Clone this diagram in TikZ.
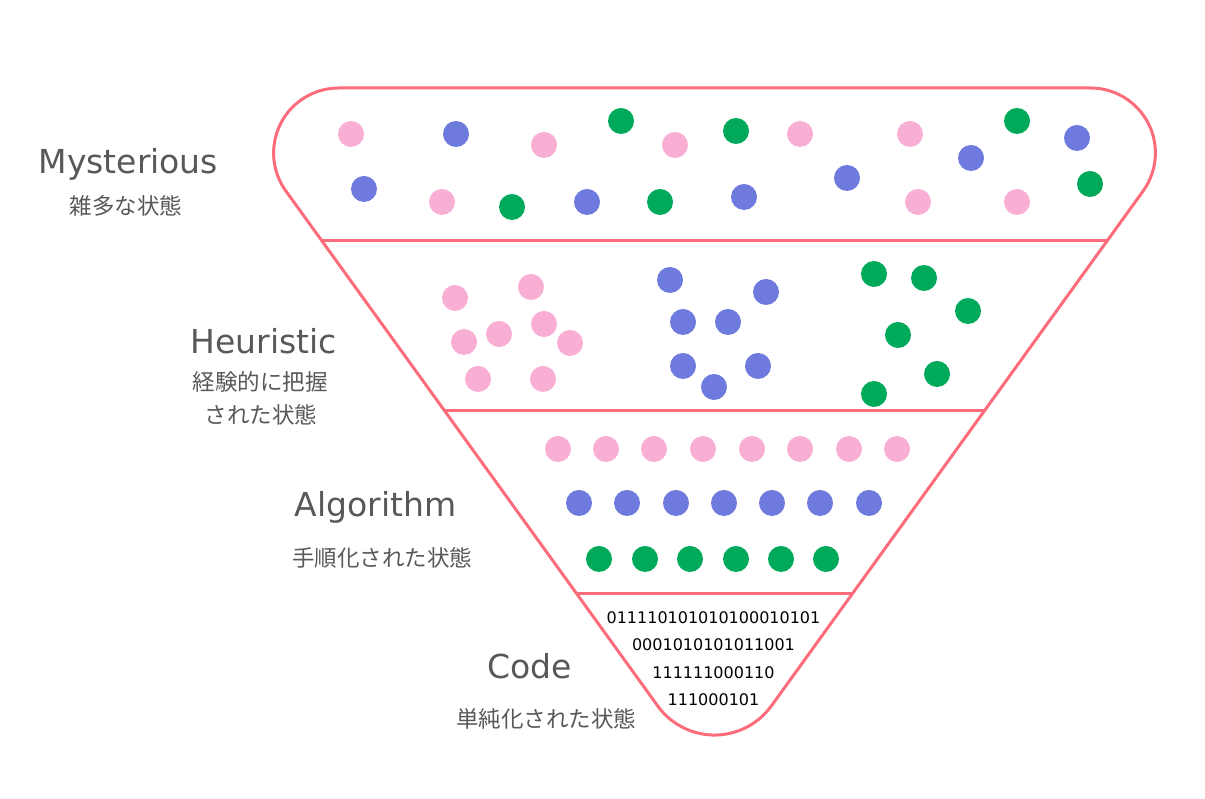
\documentclass[tikz,border=0pt]{standalone}
\usepackage{fontspec}
\setmainfont{DejaVu Sans}
\newfontfamily\jpfont{Noto Sans CJK JP}
\definecolor{outline}{RGB}{252,108,122}
\definecolor{dotpink}{RGB}{249,174,212}
\definecolor{dotblue}{RGB}{110,122,221}
\definecolor{dotgreen}{RGB}{0,170,90}
\definecolor{labelgray}{RGB}{88,88,88}
\tikzset{
  frame/.style={draw=outline, line width=3pt, line join=round},
  divider/.style={draw=outline, line width=3pt},
  title/.style={anchor=base, text=labelgray, font=\fontsize{33}{40}\selectfont, inner sep=0pt},
  sub/.style={anchor=center, text=labelgray, font=\jpfont\fontsize{22.5}{27}\selectfont, inner sep=0pt},
  bits/.style={anchor=base, text=black, font=\fontsize{16}{20}\selectfont, inner sep=0pt},
}
\newcommand\pdot[2]{\fill[dotpink] ({#1},{799-#2}) circle[radius=13];}
\newcommand\bdot[2]{\fill[dotblue] ({#1},{799-#2}) circle[radius=13];}
\newcommand\gdot[2]{\fill[dotgreen] ({#1},{799-#2}) circle[radius=13];}
\begin{document}
\begin{tikzpicture}[x=1pt,y=1pt]
\useasboundingbox (0,0) rectangle (1205,799);
% outline
\draw[frame] (338.6,711) -- (1090.4,711)
  arc[start angle=90,end angle=-35.8,radius=65] -- (771.3,93.0)
  arc[start angle=-35.8,end angle=-144.2,radius=70] -- (285.9,607.95)
  arc[start angle=215.8,end angle=90,radius=65] -- cycle;
% dividers
\coordinate (d1l) at (322.0,558); \coordinate (d1r) at (1107.0,558);
\coordinate (d2l) at (444.8,388); \coordinate (d2r) at (984.2,388);
\coordinate (d3l) at (576.9,205); \coordinate (d3r) at (852.1,205);
\draw[divider] (d1l) -- (d1r);
\draw[divider] (d2l) -- (d2r);
\draw[divider] (d3l) -- (d3r);
% top dots
\pdot{351}{134} \bdot{456}{134} \pdot{544}{145} \gdot{621}{121} \pdot{675}{145}
\gdot{736}{131} \pdot{800}{134} \pdot{910}{134} \bdot{971}{158} \gdot{1017}{121} \bdot{1077}{138}
\bdot{364}{189} \pdot{442}{202} \gdot{512}{207} \bdot{587}{202} \gdot{660}{202}
\bdot{744}{197} \bdot{847}{178} \pdot{918}{202} \pdot{1017}{202} \gdot{1090}{184}
% heuristic dots
\pdot{455}{298} \pdot{531}{287} \pdot{544}{324} \pdot{499}{334} \pdot{464}{342}
\pdot{570}{343} \pdot{478}{379} \pdot{543}{379}
\bdot{670}{280} \bdot{766}{292} \bdot{683}{322} \bdot{728}{322} \bdot{683}{366}
\bdot{758}{366} \bdot{714}{387}
\gdot{874}{274} \gdot{924}{278} \gdot{968}{311} \gdot{898}{335} \gdot{937}{374} \gdot{874}{394}
% algorithm dots
\foreach \x in {558,606,654,703,752,800,849,897} {\pdot{\x}{449}}
\foreach \x in {579,627,676,724,772,820,869} {\bdot{\x}{503}}
\foreach \x in {599,645,690,736,781,826} {\gdot{\x}{559}}
% code text
\node[bits] (b1) at (713.5,175) {011110101010100010101};
\node[bits] (b2) at (713.5,148.3) {0001010101011001};
\node[bits] (b3) at (713.5,120.7) {111111000110};
\node[bits] (b4) at (713.5,93) {111000101};
% labels
\node[title] (t1) at (128.3,625.7) {Mysterious};
\node[sub] (s1) at (126,593.5) {雑多な状態};
\node[title] (t2) at (263.8,445.7) {Heuristic};
\node[sub] (s2a) at (260,417.3) {経験的に把握};
\node[sub] (s2b) at (261,384) {された状態};
\node[title] (t3) at (375.8,282.3) {Algorithm};
\node[sub] (s3) at (382,241.5) {手順化された状態};
\node[title] (t4) at (530,120.7) {Code};
\node[sub] (s4) at (546,80) {単純化された状態};
\end{tikzpicture}
\end{document}
